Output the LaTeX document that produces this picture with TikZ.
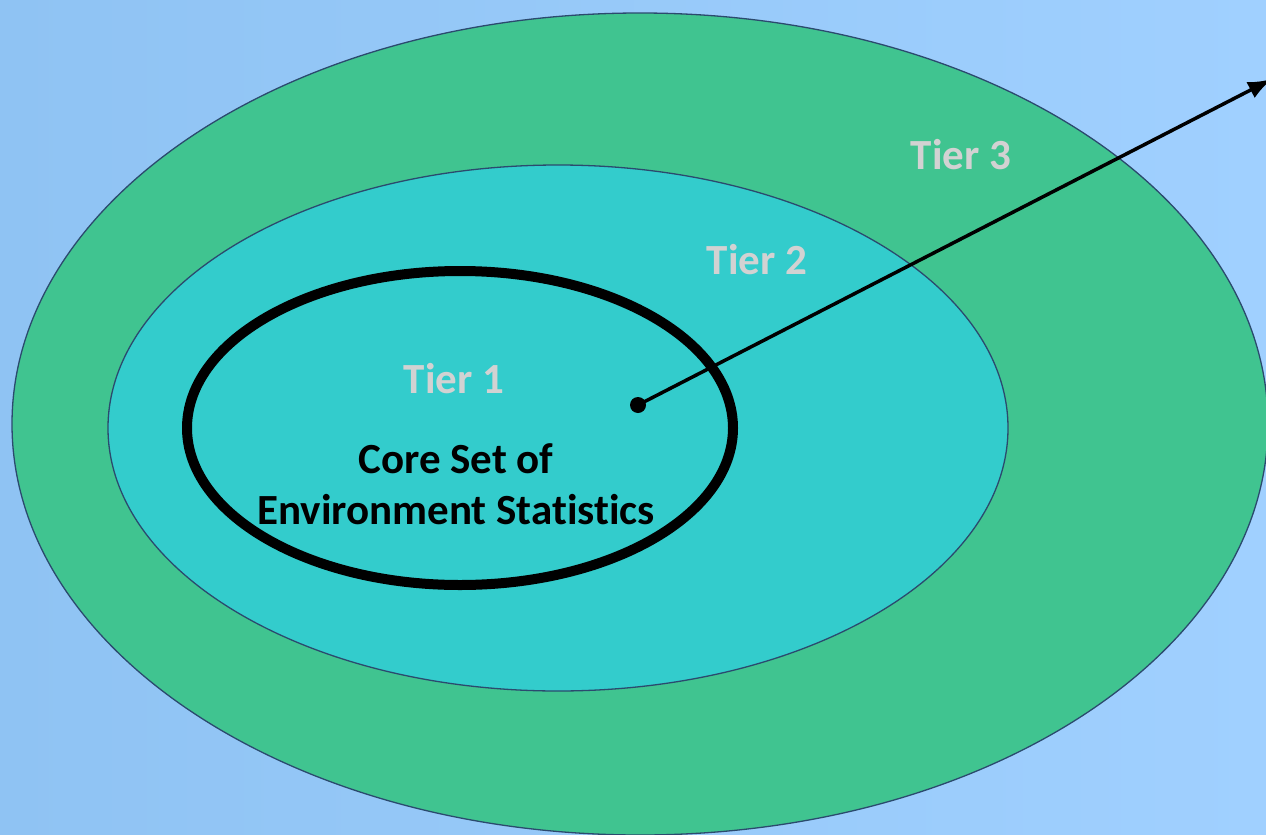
\documentclass[tikz,border=0pt]{standalone}
\usepackage{fontspec}
\setmainfont{Carlito}[Ligatures=NoCommon]
\usetikzlibrary{arrows.meta}
\definecolor{bgL}{HTML}{8FC3F3}
\definecolor{bgR}{HTML}{A0D0FF}
\definecolor{tiergreen}{HTML}{40C490}
\definecolor{tiercyan}{HTML}{33CCCC}
\definecolor{edge}{HTML}{2B4A6E}
\definecolor{tiertext}{HTML}{D2D2D2}
\tikzset{
  ring/.style={draw=edge, line width=1.3pt},
  tierlabel/.style={text=tiertext, font=\fontsize{43}{50}\selectfont\bfseries, anchor=base, inner sep=0pt},
  corelabel/.style={text=black, font=\fontsize{43}{51}\selectfont\bfseries, align=center, inner sep=0pt},
  pointer/.style={line width=3.5pt, -{Latex[length=24pt,width=18pt]}},
  dotnode/.style={circle, fill=black, inner sep=0pt, minimum size=16pt}
}
\begin{document}
\begin{tikzpicture}[x=1pt,y=-1pt]
\useasboundingbox (0,0) rectangle (1266,835);
\shade[left color=bgL, right color=bgR] (0,0) rectangle (1266,835);
% Tier 3
\draw[ring, fill=tiergreen] (640,424) ellipse [x radius=628, y radius=411];
% Tier 2
\draw[ring, fill=tiercyan] (558,428) ellipse [x radius=450, y radius=263];
% Tier 1 (core)
\draw[line width=10pt, black] (460,428) ellipse [x radius=273, y radius=157];
\node[tierlabel] (t3) at (961,169) {Tier 3};
\node[tierlabel] (t2) at (757,274) {Tier 2};
\node[tierlabel] (t1) at (454,393) {Tier 1};
\node[corelabel] (core) at (456,484) {Core Set of\\Environment Statistics};
\node[dotnode] (dot) at (638,405) {};
\coordinate (tip) at (1272,79);
\draw[pointer] (dot.center) -- (tip);
\end{tikzpicture}
\end{document}
